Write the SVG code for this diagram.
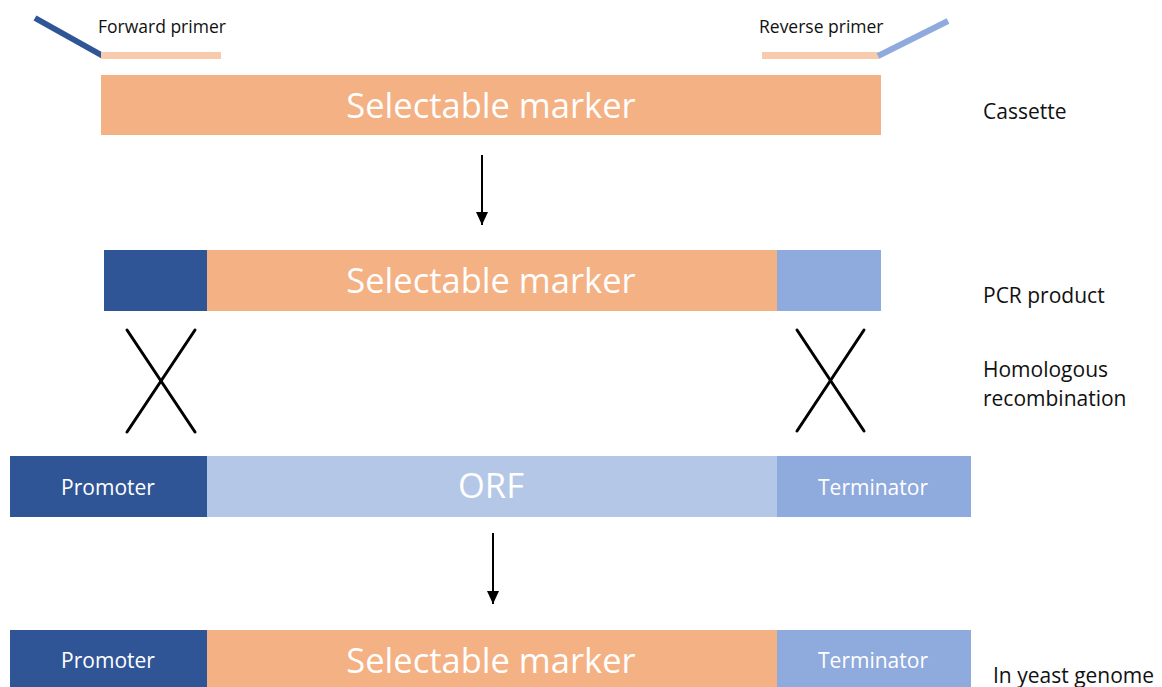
<svg xmlns="http://www.w3.org/2000/svg" width="1162" height="687" viewBox="0 0 1162 687">
<style>
.lbl{font-family:"Open Sans","Liberation Sans",sans-serif;fill:#111;font-size:17.5px}
.side{font-family:"Open Sans","Liberation Sans",sans-serif;fill:#111;font-size:21px}
.big{font-family:"Open Sans","Liberation Sans",sans-serif;fill:#fff;font-size:34.5px;text-anchor:middle}
.mid{font-family:"Open Sans","Liberation Sans",sans-serif;fill:#fff;font-size:21px;text-anchor:middle}
.dk{fill:#2F5597}.pc{fill:#F4B183}.lb{fill:#8FAADC}.xb{fill:#B4C7E7}
.x{stroke:#000;stroke-width:3;stroke-linecap:round}
.arr{stroke:#000;stroke-width:2;fill:none}
</style>
<defs>
<marker id="ah" markerWidth="13" markerHeight="12" refX="13" refY="6" orient="auto" markerUnits="userSpaceOnUse" viewBox="0 0 13 12">
<path d="M0,0 L13,6 L0,12 Z" fill="#000"/>
</marker>
</defs>
<rect width="1162" height="687" fill="#fff"/>
<g id="forward-primer">
<line x1="35" y1="18" x2="103" y2="56" stroke="#2F5597" stroke-width="6"/>
<rect x="101" y="52" width="120" height="7" fill="#F8CBAD"/>
<text class="lbl" x="98" y="33">Forward primer</text>
</g>
<g id="reverse-primer">
<rect x="762" y="52" width="117" height="7" fill="#F8CBAD"/>
<line x1="878" y1="56" x2="948" y2="21" stroke="#8FAADC" stroke-width="6"/>
<text class="lbl" x="759" y="33">Reverse primer</text>
</g>
<g id="cassette">
<rect class="pc" x="101" y="75" width="780" height="60"/>
<text class="big" x="491" y="118">Selectable marker</text>
<text class="side" x="983" y="119">Cassette</text>
</g>
<g id="pcr-product">
<rect class="dk" x="104" y="250" width="103" height="61"/>
<rect class="pc" x="207" y="250" width="570" height="61"/>
<rect class="lb" x="777" y="250" width="104" height="61"/>
<text class="big" x="491" y="293">Selectable marker</text>
<text class="side" x="983" y="303">PCR product</text>
</g>
<g id="recombination">
<line class="x" x1="127" y1="330" x2="195" y2="432"/>
<line class="x" x1="195" y1="330" x2="127" y2="432"/>
<line class="x" x1="797" y1="330" x2="864" y2="431"/>
<line class="x" x1="864" y1="330" x2="797" y2="431"/>
<text class="side" x="983" y="377">Homologous</text>
<text class="side" x="983" y="406">recombination</text>
</g>
<g id="genome-locus">
<rect class="dk" x="10" y="456" width="197" height="61"/>
<rect class="xb" x="207" y="456" width="570" height="61"/>
<rect class="lb" x="777" y="456" width="194" height="61"/>
<text class="mid" x="108" y="495">Promoter</text>
<text class="big" x="491" y="498">ORF</text>
<text class="mid" x="873" y="495">Terminator</text>
</g>
<g id="yeast-genome">
<rect class="dk" x="10" y="630" width="197" height="61"/>
<rect class="pc" x="207" y="630" width="570" height="61"/>
<rect class="lb" x="777" y="630" width="194" height="61"/>
<text class="mid" x="108" y="668">Promoter</text>
<text class="big" x="491" y="673">Selectable marker</text>
<text class="mid" x="873" y="668">Terminator</text>
<text class="side" x="993" y="683">In yeast genome</text>
</g>
<g id="connectors">
<line class="arr" x1="482" y1="155" x2="482" y2="225" marker-end="url(#ah)"/>
<line class="arr" x1="493" y1="533" x2="493" y2="604" marker-end="url(#ah)"/>
</g>
</svg>
